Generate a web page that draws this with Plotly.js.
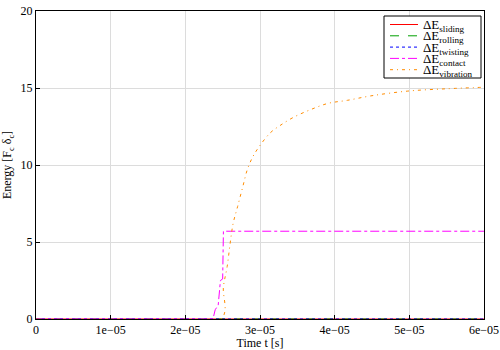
<!DOCTYPE html>
<html>
<head>
<meta charset="utf-8">
<script src="https://cdn.plot.ly/plotly-3.0.1.min.js"></script>
<style>
  html, body { margin: 0; padding: 0; background: #fff; }
  #wykres { width: 500px; height: 350px; }
</style>
</head>
<body>
<div id="wykres"></div>
<script>
// energie w funkcji czasu (czas w s, energia w F_c·δ_c)
const czasZero = [0, 6e-5];
const energiaZero = [0, 0];

const czasKontakt = [0, 2.37e-5, 2.40e-5, 2.44e-5, 2.47e-5, 2.50e-5, 2.51e-5, 6e-5];
const energiaKontakt = [0, 0, 0.6, 0.9, 2.5, 2.6, 5.7, 5.7];

const czasDrgania = [0, 2.48e-5, 2.51e-5, 2.56e-5, 2.60e-5, 2.64e-5, 2.70e-5, 2.77e-5, 2.83e-5,
  2.90e-5, 2.99e-5, 3.14e-5, 3.28e-5, 3.45e-5, 3.68e-5, 3.91e-5, 4.17e-5, 4.50e-5, 4.98e-5, 5.50e-5, 6e-5];
const energiaDrgania = [0, 0, 2.1, 3.4, 4.9, 6.2, 7.3, 8.6, 9.7,
  10.5, 11.2, 12.1, 12.6, 13.1, 13.6, 14.0, 14.2, 14.5, 14.8, 14.95, 15.05];

const wartosciX = [0, 1e-5, 2e-5, 3e-5, 4e-5, 5e-5, 6e-5];
const etykietyX = ['0', '1e\u221205', '2e\u221205', '3e\u221205', '4e\u221205', '5e\u221205', '6e\u221205'];
const wartosciY = [0, 5, 10, 15, 20];

const nazwy = ['sliding', 'rolling', 'twisting', 'contact', 'vibration'];
const kolory = ['#ff0000', '#00a000', '#0000ff', '#ff00ff', '#ff8c00'];
const kreski = ['solid', 'dash', 'dot', 'dashdot', '3px,4px,1px,4px'];

const rodzina = 'Liberation Serif, Times New Roman, serif';
const czcionka = { family: rodzina, size: 12, color: '#000' };

const dane = [
  [czasZero, energiaZero], [czasZero, energiaZero], [czasZero, energiaZero],
  [czasKontakt, energiaKontakt], [czasDrgania, energiaDrgania],
];
const slady = dane.map(([x, y], i) => ({
  x, y, name: '\u0394E<sub>' + nazwy[i] + '</sub>', mode: 'lines',
  line: { color: kolory[i], width: 1, dash: kreski[i], shape: i === 4 ? 'spline' : 'linear' },
}));

// legenda ręcznie — wbudowana w plotly ma za duże odstępy między wpisami
const L = 36, P = 484, G = 11, D = 319;
const px = v => (v - L) / (P - L);
const py = v => (D - v) / (D - G);
const ksztalty = [{
  type: 'rect', xref: 'paper', yref: 'paper',
  x0: px(384), x1: px(481), y0: py(78), y1: py(16),
  line: { color: '#000', width: 1 }, fillcolor: '#fff', layer: 'above',
}];
const adnotacje = [];
nazwy.forEach((n, i) => {
  const yy = 24.5 + i * 11.3;
  ksztalty.push({
    type: 'line', xref: 'paper', yref: 'paper', layer: 'above',
    x0: px(390), x1: px(418), y0: py(yy), y1: py(yy),
    line: { color: kolory[i], width: 1, dash: kreski[i] },
  });
  adnotacje.push({
    xref: 'paper', yref: 'paper', x: px(422), y: py(yy + 1), xanchor: 'left', yanchor: 'middle',
    text: '\u0394E<sub>' + n + '</sub>', showarrow: false,
    font: { family: rodzina, size: 13, color: '#000' }, borderpad: 0,
  });
});

const os = {
  showline: true, mirror: true, linecolor: '#000', linewidth: 1,
  showgrid: true, gridcolor: '#dcdcdc', gridwidth: 1,
  ticks: 'inside', ticklen: 4, tickcolor: '#000',
  zeroline: false, tickfont: czcionka,
};

const uklad = {
  width: 500, height: 350,
  margin: { l: L, r: 500 - P, t: G, b: 350 - D },
  paper_bgcolor: '#fff', plot_bgcolor: '#fff',
  font: czcionka,
  showlegend: false,
  shapes: ksztalty,
  annotations: adnotacje,
  xaxis: Object.assign({}, os, {
    range: [0, 6e-5], tickmode: 'array', tickvals: wartosciX, ticktext: etykietyX,
    title: { text: 'Time t [s]', font: czcionka, standoff: 2 },
  }),
  yaxis: Object.assign({}, os, {
    range: [0, 20], tickmode: 'array', tickvals: wartosciY,
    title: { text: 'Energy [F<sub>c</sub> \u03b4<sub>c</sub>]', font: czcionka, standoff: 6 },
  }),
};

Plotly.newPlot('wykres', slady, uklad, { displayModeBar: false, staticPlot: true });
</script>
</body>
</html>
